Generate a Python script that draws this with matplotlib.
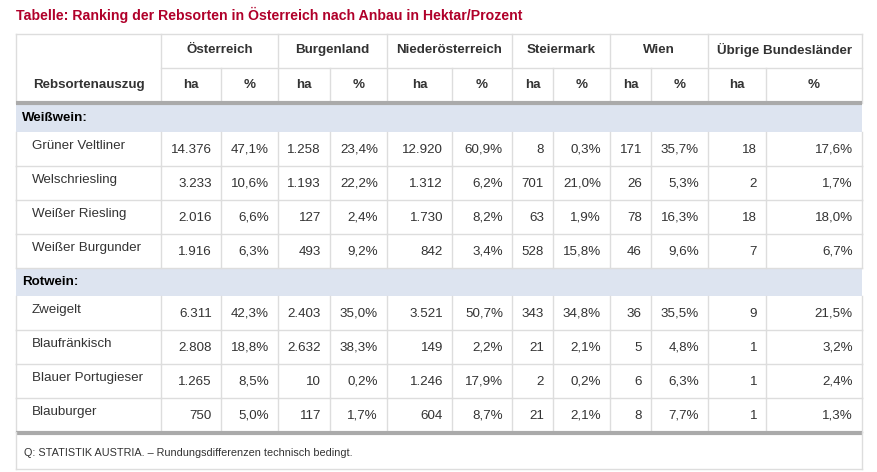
import matplotlib.pyplot as plt
from matplotlib.patches import Rectangle

plt.rcParams['font.family'] = 'Liberation Sans'

title = "Tabelle: Ranking der Rebsorten in Österreich nach Anbau in Hektar/Prozent"
regions = ["Österreich", "Burgenland", "Niederösterreich", "Steiermark", "Wien", "Übrige Bundesländer"]
footnote = "Q: STATISTIK AUSTRIA. – Rundungsdifferenzen technisch bedingt."

weiss_names = ["Grüner Veltliner", "Welschriesling", "Weißer Riesling", "Weißer Burgunder"]
weiss_values = [
    ["14.376", "47,1%", "1.258", "23,4%", "12.920", "60,9%", "8", "0,3%", "171", "35,7%", "18", "17,6%"],
    ["3.233", "10,6%", "1.193", "22,2%", "1.312", "6,2%", "701", "21,0%", "26", "5,3%", "2", "1,7%"],
    ["2.016", "6,6%", "127", "2,4%", "1.730", "8,2%", "63", "1,9%", "78", "16,3%", "18", "18,0%"],
    ["1.916", "6,3%", "493", "9,2%", "842", "3,4%", "528", "15,8%", "46", "9,6%", "7", "6,7%"],
]
rot_names = ["Zweigelt", "Blaufränkisch", "Blauer Portugieser", "Blauburger"]
rot_values = [
    ["6.311", "42,3%", "2.403", "35,0%", "3.521", "50,7%", "343", "34,8%", "36", "35,5%", "9", "21,5%"],
    ["2.808", "18,8%", "2.632", "38,3%", "149", "2,2%", "21", "2,1%", "5", "4,8%", "1", "3,2%"],
    ["1.265", "8,5%", "10", "0,2%", "1.246", "17,9%", "2", "0,2%", "6", "6,3%", "1", "2,4%"],
    ["750", "5,0%", "117", "1,7%", "604", "8,7%", "21", "2,1%", "8", "7,7%", "1", "1,3%"],
]

W, H = 878, 472
fig = plt.figure(figsize=(W / 100, H / 100), dpi=100)
ax = fig.add_axes([0, 0, 1, 1])
ax.set_xlim(0, W)
ax.set_ylim(H, 0)
ax.axis('off')

txt = '#333333'
grid = '#dddddd'
cols = [16, 161, 221, 278, 330, 387, 452, 512, 553, 610, 651, 708, 766, 862]
L, R = cols[0], cols[-1]
fs = 9.6

ax.text(16, 15, title, color='#b0002a', fontsize=10.2, fontweight='bold', va='center')

# header
ax.plot([L, R], [34, 34], color=grid, lw=1)
ax.plot([cols[1], R], [68, 68], color=grid, lw=1)
for i, reg in enumerate(regions):
    x0, x1 = cols[1 + 2 * i], cols[3 + 2 * i]
    ax.text((x0 + x1) / 2, 50, reg, ha='center', va='center', fontsize=fs, fontweight='bold', color=txt)
    for j, lab in enumerate(["ha", "%"]):
        a, b = cols[1 + 2 * i + j], cols[2 + 2 * i + j]
        ax.text((a + b) / 2, 85, lab, ha='center', va='center', fontsize=fs, fontweight='bold', color=txt)
ax.text((cols[0] + cols[1]) / 2, 85, "Rebsortenauszug", ha='center', va='center', fontsize=fs, fontweight='bold', color=txt)
for k, x in enumerate(cols):
    y0 = 68 if (k >= 2 and k % 2 == 0) else 34
    ax.plot([x, x], [y0, 103], color=grid, lw=1)
ax.plot([L, R], [103, 103], color='#aaaaaa', lw=3, solid_capstyle='butt')


def section(y0, y1, label):
    ax.add_patch(Rectangle((L, y0), R - L, y1 - y0, facecolor='#dde4f0', edgecolor='none'))
    ax.text(L + 6, (y0 + y1) / 2, label, va='center', fontsize=fs, fontweight='bold', color='black')


def rows(y_start, names, values):
    y = y_start
    h = 34
    for name, vals in zip(names, values):
        ax.text(L + 16, y + h / 2 - 3, name, va='center', fontsize=fs, color=txt)
        for c, v in enumerate(vals):
            ax.text(cols[c + 2] - 9, y + h / 2 + 1, v, ha='right', va='center', fontsize=fs, color=txt)
        for x in cols:
            ax.plot([x, x], [y, y + h], color=grid, lw=1)
        ax.plot([L, R], [y + h, y + h], color=grid, lw=1)
        y += h
    return y


section(104, 132, "Weißwein:")
y = rows(132, weiss_names, weiss_values)
section(y, y + 28, "Rotwein:")
y = rows(y + 28, rot_names, rot_values)
ax.plot([L, R], [y + 1, y + 1], color='#aaaaaa', lw=3, solid_capstyle='butt')

# footnote box
ax.plot([L, L], [y, 469], color=grid, lw=1)
ax.plot([R, R], [y, 469], color=grid, lw=1)
ax.plot([L, R], [469, 469], color=grid, lw=1)
ax.text(L + 8, 453, footnote, va='center', fontsize=7.8, color=txt)

fig.savefig('out.png', dpi=100)
